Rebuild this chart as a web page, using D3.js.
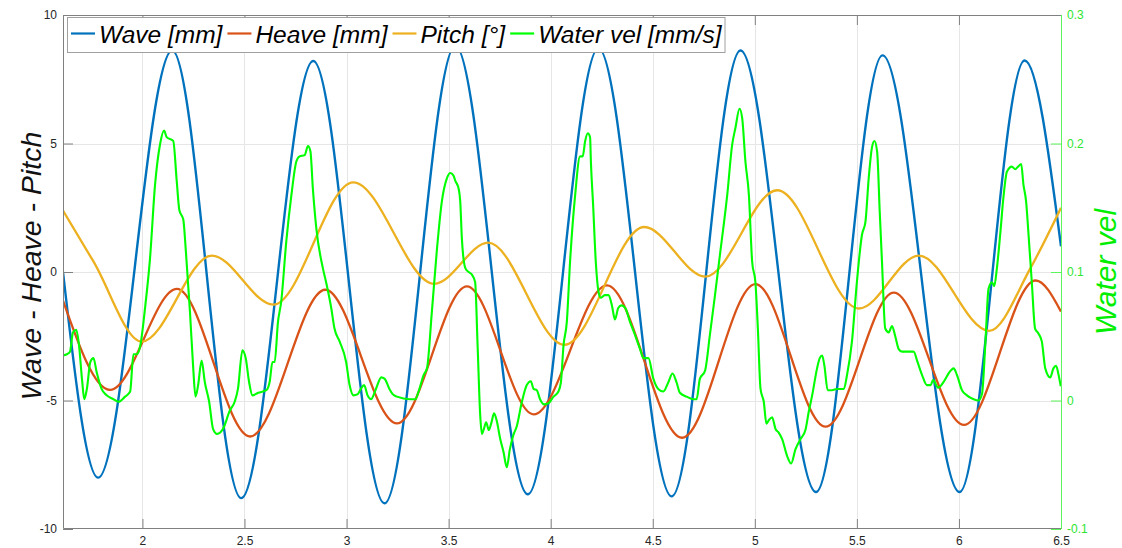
<!DOCTYPE html>
<html>
<head>
<meta charset="utf-8">
<script src="https://cdn.jsdelivr.net/npm/d3@7"></script>
<style>
  body { margin: 0; background: #fff; }
  svg { display: block; font-family: "Liberation Sans", Arial, sans-serif; }
</style>
</head>
<body>
<div id="chart"></div>
<script>
// Values: [time, value]
// wave / heave / pitch -> left axis, water velocity -> right axis
const wave = [
    [1.611, 0], [1.783, -8.0], [2.146, 8.62], [2.484, -8.8], [2.837, 8.21], [3.186, -9.0],
    [3.533, 8.8], [3.888, -8.65], [4.234, 8.7], [4.593, -8.73], [4.93, 8.62], [5.30, -8.56],
    [5.626, 8.43], [6.003, -8.56], [6.322, 8.23], [6.5, 1.0]
];

const heave = [
    [1.611, -1.11], [1.842, -4.59], [2.169, -0.66], [2.528, -6.4], [2.896, -0.69], [3.247, -5.89],
    [3.59, -0.56], [3.917, -5.54], [4.276, -0.52], [4.644, -6.45], [5.003, -0.47], [5.347, -6.02],
    [5.681, -0.80], [6.025, -5.95], [6.376, -0.33], [6.5, -1.54]
];

const pitch = [
    [1.611, 2.39], [1.76, 0.41], [1.997, -2.71], [2.34, 0.64], [2.642, -1.27], [3.033, 3.49],
    [3.43, -0.46], [3.694, 1.14], [4.068, -2.83], [4.458, 1.75], [4.758, -0.18], [5.11, 3.18],
    [5.51, -1.42], [5.804, 0.64], [6.148, -2.29], [6.351, 0.16], [6.5, 2.5]
];

const waterVel = [
    [1.611, 0.035], [1.63, 0.036], [1.645, 0.038], [1.66, 0.053], [1.676, 0.055], [1.688, 0.045],
    [1.705, 0.015], [1.715, 0.001], [1.728, 0.009], [1.745, 0.030], [1.76, 0.033], [1.776, 0.022],
    [1.80, 0.009], [1.825, 0.004], [1.858, 0.001], [1.883, -0.001], [1.915, 0.003], [1.94, 0.007],
    [1.956, 0.036], [1.972, 0.036], [1.99, 0.043], [2.013, 0.072], [2.037, 0.11], [2.062, 0.168],
    [2.086, 0.199], [2.106, 0.210], [2.119, 0.205], [2.151, 0.202], [2.168, 0.171], [2.181, 0.148],
    [2.20, 0.141], [2.213, 0.116], [2.233, 0.069], [2.249, 0.025], [2.26, 0.003], [2.273, 0.012],
    [2.29, 0.031], [2.306, 0.014], [2.327, -0.001], [2.346, -0.022], [2.366, -0.026], [2.395, -0.022],
    [2.428, -0.008], [2.452, -0.001], [2.468, 0.009], [2.49, 0.039], [2.506, 0.033], [2.523, 0.014],
    [2.539, 0.004], [2.567, 0.006], [2.607, 0.008], [2.624, 0.015], [2.637, 0.030], [2.648, 0.030],
    [2.664, 0.061], [2.68, 0.077], [2.705, 0.124], [2.73, 0.160], [2.754, 0.186], [2.77, 0.190],
    [2.795, 0.191], [2.811, 0.198], [2.823, 0.194], [2.835, 0.165], [2.852, 0.134], [2.884, 0.103],
    [2.90, 0.092], [2.925, 0.072], [2.941, 0.056], [2.966, 0.046], [2.998, 0.030], [3.015, 0.012],
    [3.034, 0.004], [3.055, 0.005], [3.07, 0.009], [3.086, 0.012], [3.103, 0.004], [3.12, 0.001],
    [3.144, 0.009], [3.17, 0.018], [3.186, 0.017], [3.21, 0.009], [3.226, 0.005], [3.247, 0.003],
    [3.31, 0.001], [3.337, 0.001], [3.353, 0.007], [3.378, 0.020], [3.394, 0.025], [3.418, 0.069],
    [3.443, 0.118], [3.467, 0.155], [3.492, 0.173], [3.508, 0.177], [3.524, 0.175], [3.533, 0.171],
    [3.549, 0.165], [3.557, 0.155], [3.565, 0.126], [3.582, 0.103], [3.598, 0.100], [3.614, 0.098],
    [3.63, 0.092], [3.642, 0.043], [3.655, -0.012], [3.663, -0.026], [3.673, -0.022], [3.684, -0.017],
    [3.697, -0.023], [3.71, -0.017], [3.723, -0.010], [3.736, -0.016], [3.753, -0.030], [3.769, -0.040],
    [3.785, -0.052], [3.80, -0.038], [3.817, -0.027], [3.834, -0.020], [3.859, -0.001], [3.883, 0.012],
    [3.903, 0.015], [3.916, 0.009], [3.932, 0.008], [3.948, 0.001], [3.968, -0.003], [3.99, -0.002],
    [4.014, 0.003], [4.038, 0.007], [4.05, 0.014], [4.063, 0.043], [4.079, 0.061], [4.095, 0.108],
    [4.12, 0.160], [4.144, 0.190], [4.157, 0.190], [4.169, 0.202], [4.182, 0.208], [4.193, 0.205],
    [4.197, 0.186], [4.208, 0.152], [4.221, 0.108], [4.234, 0.085], [4.245, 0.080], [4.265, 0.082],
    [4.283, 0.082], [4.30, 0.074], [4.315, 0.063], [4.331, 0.072], [4.347, 0.074], [4.365, 0.072],
    [4.389, 0.061], [4.413, 0.051], [4.438, 0.040], [4.454, 0.033], [4.479, 0.033], [4.503, 0.017],
    [4.527, 0.009], [4.552, 0.007], [4.576, 0.014], [4.597, 0.021], [4.617, 0.014], [4.633, 0.006],
    [4.666, 0.003], [4.699, 0.001], [4.715, 0.001], [4.731, 0.017], [4.756, 0.023], [4.78, 0.051],
    [4.805, 0.082], [4.832, 0.117], [4.848, 0.137], [4.865, 0.160], [4.889, 0.199], [4.905, 0.212],
    [4.925, 0.227], [4.938, 0.220], [4.954, 0.186], [4.971, 0.160], [4.987, 0.108], [5.003, 0.092],
    [5.015, 0.056], [5.028, 0.009], [5.044, -0.001], [5.057, -0.018], [5.07, -0.015], [5.085, -0.013],
    [5.101, -0.022], [5.117, -0.025], [5.134, -0.030], [5.158, -0.043], [5.178, -0.049], [5.199, -0.038],
    [5.224, -0.030], [5.248, -0.023], [5.264, -0.009], [5.281, 0.004], [5.305, 0.025], [5.318, 0.033],
    [5.33, 0.035], [5.341, 0.027], [5.357, 0.008], [5.378, 0.008], [5.403, 0.009], [5.436, 0.009],
    [5.452, 0.020], [5.476, 0.046], [5.50, 0.092], [5.525, 0.129], [5.542, 0.139], [5.558, 0.173],
    [5.574, 0.197], [5.586, 0.202], [5.599, 0.194], [5.612, 0.147], [5.623, 0.108], [5.639, 0.056],
    [5.656, 0.053], [5.672, 0.058], [5.688, 0.050], [5.705, 0.040], [5.721, 0.038], [5.746, 0.038],
    [5.778, 0.038], [5.797, 0.030], [5.819, 0.020], [5.843, 0.012], [5.862, 0.012], [5.873, 0.016],
    [5.898, 0.010], [5.923, 0.014], [5.958, 0.023], [5.974, 0.025], [5.99, 0.020], [6.015, 0.008],
    [6.039, 0.004], [6.072, 0.001], [6.096, 0.000], [6.113, 0.005], [6.129, 0.043], [6.145, 0.087],
    [6.162, 0.092], [6.173, 0.089], [6.186, 0.103], [6.202, 0.129], [6.218, 0.158], [6.235, 0.178],
    [6.259, 0.182], [6.276, 0.180], [6.29, 0.182], [6.305, 0.184], [6.316, 0.168], [6.329, 0.155],
    [6.341, 0.129], [6.357, 0.092], [6.373, 0.056], [6.39, 0.052], [6.406, 0.046], [6.423, 0.025],
    [6.447, 0.018], [6.463, 0.025], [6.476, 0.027], [6.488, 0.020], [6.499, 0.011]
];

const xTicks = [2, 2.5, 3, 3.5, 4, 4.5, 5, 5.5, 6, 6.5];
const yLeftTicks = [-10, -5, 0, 5, 10];
const yRightTicks = [-0.1, 0, 0.1, 0.2, 0.3];
const legendLabels = ["Wave [mm]", "Heave [mm]", "Pitch [°]", "Water vel [mm/s]"];

const colors = {wave: "#0072BD", heave: "#D95319", pitch: "#EDB120", vel: "#00FF00"};

// Canvas
const W = 1122, H = 548;
const plot = {left: 63, right: 1061, top: 15, bottom: 529};

const svg = d3.select("#chart").append("svg")
    .attr("width", W)
    .attr("height", H);

// Scales
const x = d3.scaleLinear().domain([1.611, 6.5]).range([plot.left, plot.right]);
const yL = d3.scaleLinear().domain([-10, 10]).range([plot.bottom, plot.top]);
const yR = d3.scaleLinear().domain([-0.1, 0.3]).range([plot.bottom, plot.top]);

// Grid
const grid = svg.append("g").attr("stroke", "#e6e6e6").attr("stroke-width", 1);
grid.selectAll("line.vx")
    .data(xTicks.filter(d => d < 6.5))
    .join("line")
    .attr("x1", d => Math.round(x(d)) + 0.5).attr("x2", d => Math.round(x(d)) + 0.5)
    .attr("y1", plot.top).attr("y2", plot.bottom);
grid.selectAll("line.hy")
    .data([-5, 0, 5])
    .join("line")
    .attr("y1", d => Math.round(yL(d)) + 0.5).attr("y2", d => Math.round(yL(d)) + 0.5)
    .attr("x1", plot.left).attr("x2", plot.right);

// Lines
svg.append("clipPath").attr("id", "clip")
    .append("rect")
    .attr("x", plot.left).attr("y", plot.top)
    .attr("width", plot.right - plot.left).attr("height", plot.bottom - plot.top);

const lineL = d3.line().x(d => x(d[0])).y(d => yL(d[1])).curve(d3.curveMonotoneX);
const lineR = d3.line().x(d => x(d[0])).y(d => yR(d[1])).curve(d3.curveMonotoneX);

const lines = svg.append("g").attr("clip-path", "url(#clip)").attr("fill", "none");
lines.append("path").attr("d", lineL(wave)).attr("stroke", colors.wave).attr("stroke-width", 2.4);
lines.append("path").attr("d", lineL(heave)).attr("stroke", colors.heave).attr("stroke-width", 2.3);
lines.append("path").attr("d", lineL(pitch)).attr("stroke", colors.pitch).attr("stroke-width", 2.3);
lines.append("path").attr("d", lineR(waterVel)).attr("stroke", colors.vel).attr("stroke-width", 2.1)
    .attr("stroke-linejoin", "round");

// Axes
function styleAxis(g, color, textColor) {
    g.select(".domain").remove();
    g.selectAll(".tick line").attr("stroke", color);
    g.selectAll(".tick text")
        .attr("fill", textColor)
        .style("font-size", "12px")
        .style("font-family", "'Liberation Sans', Arial, sans-serif");
}

svg.append("g")
    .attr("transform", `translate(0,${plot.bottom})`)
    .call(d3.axisBottom(x).tickValues(xTicks).tickSize(-10).tickPadding(7).tickFormat(d => String(d)))
    .call(g => styleAxis(g, "#808080", "#262626"));

svg.append("g")
    .attr("transform", `translate(0,${plot.top})`)
    .call(d3.axisTop(x).tickValues(xTicks).tickSize(-10).tickFormat(""))
    .call(g => styleAxis(g, "#808080", "#262626"));

svg.append("g")
    .attr("transform", `translate(${plot.left},0)`)
    .call(d3.axisLeft(yL).tickValues(yLeftTicks).tickSize(-10).tickPadding(6).tickFormat(d => String(d)))
    .call(g => styleAxis(g, "#808080", "#262626"));

svg.append("g")
    .attr("transform", `translate(${plot.right},0)`)
    .call(d3.axisRight(yR).tickValues(yRightTicks).tickSize(-10).tickPadding(6).tickFormat(d => String(d)))
    .call(g => styleAxis(g, "#5cf55c", "#2ee62e"));

// Box
svg.append("path")
    .attr("d", `M${plot.right},${plot.top + 0.5}H${plot.left + 0.5}V${plot.bottom - 0.5}H${plot.right}`)
    .attr("fill", "none").attr("stroke", "#808080");
svg.append("line")
    .attr("x1", plot.right + 0.5).attr("x2", plot.right + 0.5)
    .attr("y1", plot.top).attr("y2", plot.bottom)
    .attr("stroke", "#5cf55c");

// Axis titles
svg.append("text")
    .attr("transform", "translate(41,266) rotate(-90)")
    .attr("text-anchor", "middle")
    .style("font-size", "28.5px").style("font-style", "italic")
    .attr("fill", "#111")
    .text("Wave - Heave - Pitch");

svg.append("text")
    .attr("transform", "translate(1116,272) rotate(-90)")
    .attr("text-anchor", "middle")
    .style("font-size", "30px").style("font-style", "italic")
    .attr("fill", "#00ee00")
    .text("Water vel");

// Legend
const legend = svg.append("g");
const legendBox = legend.append("rect")
    .attr("x", 67.5).attr("y", 17.5).attr("height", 35)
    .attr("fill", "#fff").attr("stroke", "#a0a0a0");

const legendColors = [colors.wave, colors.heave, colors.pitch, colors.vel];
let cursor = 71;
legendLabels.forEach((label, i) => {
    legend.append("line")
        .attr("x1", cursor).attr("x2", cursor + 24)
        .attr("y1", 33.5).attr("y2", 33.5)
        .attr("stroke", legendColors[i]).attr("stroke-width", 2.2);
    const t = legend.append("text")
        .attr("x", cursor + 28).attr("y", 43)
        .style("font-size", "24.5px").style("font-style", "italic")
        .attr("fill", "#000")
        .text(label);
    cursor = cursor + 28 + t.node().getComputedTextLength() + 5;
});
legendBox.attr("width", cursor - 67 - 2);
</script>
</body>
</html>
